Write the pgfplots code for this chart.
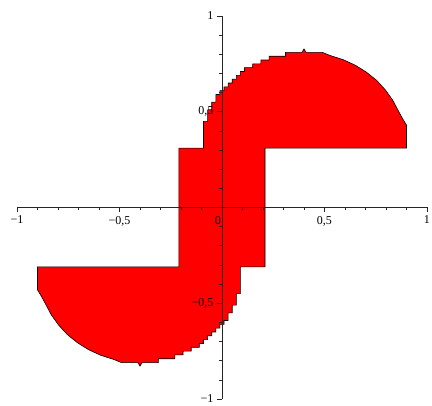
\documentclass[border=0pt]{standalone}
\usepackage{fontspec}
\setmainfont{Liberation Serif}
\usepackage{pgfplots}
\pgfplotsset{compat=1.18}
\begin{document}
\begin{tikzpicture}
\useasboundingbox (-17pt,-7pt) rectangle (415pt,399pt);
\begin{axis}[
  at={(0,0)}, anchor=south west,
  scale only axis, width=410pt, height=383pt,
  xmin=-1, xmax=1, ymin=-1, ymax=1,
  axis lines=middle,
  axis line style={-, black!85, line width=0.6pt},
  axis on top,
  xtick={-1,-0.5,0,0.5,1},
  xticklabels={{−1},{−0,5},{\makebox[0pt][r]{0\kern1pt}},{0,5},{1}},
  ytick={-1,-0.5,0.5,1},
  yticklabels={{−1},{−0,5},{0,5},{1}},
  minor xtick={-0.9,-0.8,-0.7,-0.6,-0.4,-0.3,-0.2,-0.1,0.1,0.2,0.3,0.4,0.6,0.7,0.8,0.9},
  minor ytick={-0.9,-0.8,-0.7,-0.6,-0.4,-0.3,-0.2,-0.1,0.1,0.2,0.3,0.4,0.6,0.7,0.8,0.9},
  hide obscured x ticks=false,
  tick align=outside,
  major tick length=5pt, minor tick length=2.5pt,
  tick style={black!85, line width=0.6pt},
  ticklabel style={font=\fontsize{12}{14}\selectfont},
]
% filled region: central block with two stepped half-discs
\addplot[fill=red, draw=black, line width=0.6pt] coordinates {
  (0.21,0.31) (0.9,0.31) (0.9,0.43) (0.883,0.46) (0.862,0.501) (0.833,0.56)
  (0.797,0.614) (0.754,0.664) (0.704,0.707) (0.65,0.743) (0.591,0.772)
  (0.529,0.793) (0.49,0.81) (0.41,0.81) (0.40,0.828) (0.39,0.81) (0.31,0.81)
  (0.31,0.79) (0.23,0.79) (0.23,0.77) (0.19,0.77) (0.19,0.75) (0.15,0.75)
  (0.15,0.73) (0.11,0.73) (0.11,0.71) (0.09,0.71) (0.09,0.69) (0.07,0.69)
  (0.07,0.67) (0.05,0.67) (0.05,0.65) (0.03,0.65) (0.03,0.63) (0.01,0.63)
  (0.01,0.61) (-0.01,0.61) (-0.01,0.59) (-0.03,0.59) (-0.03,0.55) (-0.05,0.55)
  (-0.05,0.51) (-0.07,0.51) (-0.07,0.45) (-0.09,0.45) (-0.09,0.31)
  (-0.21,0.31) (-0.21,-0.31)
  (-0.9,-0.31) (-0.9,-0.43) (-0.883,-0.46) (-0.862,-0.501) (-0.833,-0.56)
  (-0.797,-0.614) (-0.754,-0.664) (-0.704,-0.707) (-0.65,-0.743) (-0.591,-0.772)
  (-0.529,-0.793) (-0.49,-0.81) (-0.41,-0.81) (-0.40,-0.828) (-0.39,-0.81) (-0.31,-0.81)
  (-0.31,-0.79) (-0.23,-0.79) (-0.23,-0.77) (-0.19,-0.77) (-0.19,-0.75) (-0.15,-0.75)
  (-0.15,-0.73) (-0.11,-0.73) (-0.11,-0.71) (-0.09,-0.71) (-0.09,-0.69) (-0.07,-0.69)
  (-0.07,-0.67) (-0.05,-0.67) (-0.05,-0.65) (-0.03,-0.65) (-0.03,-0.63) (-0.01,-0.63)
  (-0.01,-0.61) (0.01,-0.61) (0.01,-0.59) (0.03,-0.59) (0.03,-0.55) (0.05,-0.55)
  (0.05,-0.51) (0.07,-0.51) (0.07,-0.45) (0.09,-0.45) (0.09,-0.31)
  (0.21,-0.31) (0.21,0.31)
};
\end{axis}
\end{tikzpicture}
\end{document}
